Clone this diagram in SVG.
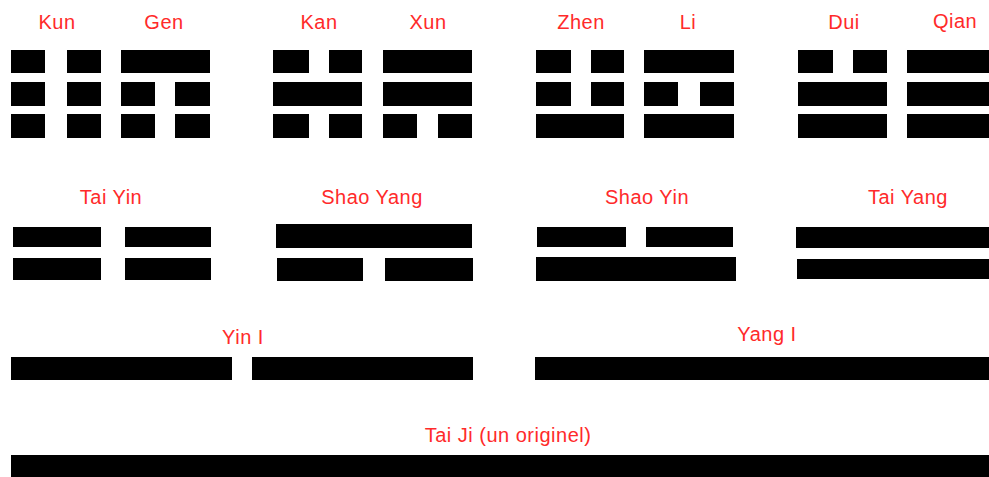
<svg xmlns="http://www.w3.org/2000/svg" width="989" height="477" viewBox="0 0 989 477">
<style>
.bg{fill:#ffffff}
.bar{fill:#000000}
.lbl{font-family:"Liberation Sans",Arial,sans-serif;font-size:20px;fill:#ff2a2a;text-anchor:middle;letter-spacing:0.5px}
</style>
<rect class="bg" x="0" y="0" width="989" height="477"/>
<g id="kun">
<text class="lbl" x="57" y="29">Kun</text>
<rect class="bar" x="11" y="50" width="34" height="23"/><rect class="bar" x="67" y="50" width="34" height="23"/>
<rect class="bar" x="11" y="82" width="34" height="24"/><rect class="bar" x="67" y="82" width="34" height="24"/>
<rect class="bar" x="11" y="114" width="34" height="24"/><rect class="bar" x="67" y="114" width="34" height="24"/>
</g>
<g id="gen">
<text class="lbl" x="164" y="29">Gen</text>
<rect class="bar" x="121" y="50" width="89" height="23"/>
<rect class="bar" x="121" y="82" width="34" height="24"/><rect class="bar" x="175" y="82" width="35" height="24"/>
<rect class="bar" x="121" y="114" width="34" height="24"/><rect class="bar" x="175" y="114" width="35" height="24"/>
</g>
<g id="kan">
<text class="lbl" x="319" y="29">Kan</text>
<rect class="bar" x="273" y="50" width="36" height="23"/><rect class="bar" x="329" y="50" width="33" height="23"/>
<rect class="bar" x="273" y="82" width="89" height="24"/>
<rect class="bar" x="273" y="114" width="36" height="24"/><rect class="bar" x="329" y="114" width="33" height="24"/>
</g>
<g id="xun">
<text class="lbl" x="428" y="29">Xun</text>
<rect class="bar" x="383" y="50" width="89" height="23"/>
<rect class="bar" x="383" y="82" width="89" height="24"/>
<rect class="bar" x="383" y="114" width="34" height="24"/><rect class="bar" x="438" y="114" width="34" height="24"/>
</g>
<g id="zhen">
<text class="lbl" x="581" y="29">Zhen</text>
<rect class="bar" x="536" y="50" width="35" height="23"/><rect class="bar" x="591" y="50" width="33" height="23"/>
<rect class="bar" x="536" y="82" width="35" height="24"/><rect class="bar" x="591" y="82" width="33" height="24"/>
<rect class="bar" x="536" y="114" width="88" height="24"/>
</g>
<g id="li">
<text class="lbl" x="688" y="29">Li</text>
<rect class="bar" x="644" y="50" width="90" height="23"/>
<rect class="bar" x="644" y="82" width="34" height="24"/><rect class="bar" x="700" y="82" width="34" height="24"/>
<rect class="bar" x="644" y="114" width="90" height="24"/>
</g>
<g id="dui">
<text class="lbl" x="844" y="29">Dui</text>
<rect class="bar" x="798" y="50" width="35" height="23"/><rect class="bar" x="853" y="50" width="34" height="23"/>
<rect class="bar" x="798" y="82" width="89" height="24"/>
<rect class="bar" x="798" y="114" width="89" height="24"/>
</g>
<g id="qian">
<text class="lbl" x="955" y="28">Qian</text>
<rect class="bar" x="907" y="50" width="90" height="23"/>
<rect class="bar" x="907" y="82" width="90" height="24"/>
<rect class="bar" x="907" y="114" width="90" height="24"/>
</g>
<g id="tai-yin">
<text class="lbl" x="111" y="204">Tai Yin</text>
<rect class="bar" x="13" y="227" width="88" height="20"/><rect class="bar" x="125" y="227" width="86" height="20"/>
<rect class="bar" x="13" y="258" width="88" height="22"/><rect class="bar" x="125" y="258" width="86" height="22"/>
</g>
<g id="shao-yang">
<text class="lbl" x="372" y="204">Shao Yang</text>
<rect class="bar" x="276" y="224" width="196" height="24"/>
<rect class="bar" x="277" y="258" width="86" height="23"/><rect class="bar" x="385" y="258" width="88" height="23"/>
</g>
<g id="shao-yin">
<text class="lbl" x="647" y="204">Shao Yin</text>
<rect class="bar" x="537" y="227" width="89" height="20"/><rect class="bar" x="646" y="227" width="87" height="20"/>
<rect class="bar" x="536" y="257" width="200" height="24"/>
</g>
<g id="tai-yang">
<text class="lbl" x="908" y="204">Tai Yang</text>
<rect class="bar" x="796" y="227" width="200" height="21"/>
<rect class="bar" x="797" y="259" width="200" height="20"/>
</g>
<g id="yin-i">
<text class="lbl" x="243" y="344">Yin I</text>
<rect class="bar" x="11" y="357" width="221" height="23"/><rect class="bar" x="252" y="357" width="221" height="23"/>
</g>
<g id="yang-i">
<text class="lbl" x="767" y="341">Yang I</text>
<rect class="bar" x="535" y="357" width="460" height="23"/>
</g>
<g id="tai-ji">
<text class="lbl" x="508" y="442">Tai Ji (un originel)</text>
<rect class="bar" x="11" y="455" width="985" height="25"/>
</g>
<g id="connectors"></g>
</svg>
